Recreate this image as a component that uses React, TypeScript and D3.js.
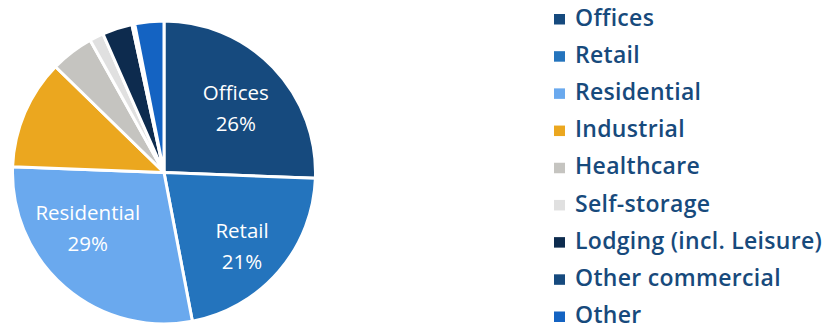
import React from "react";
import * as d3 from "d3";

const categories = [
  "Offices",
  "Retail",
  "Residential",
  "Industrial",
  "Healthcare",
  "Self-storage",
  "Lodging (incl. Leisure)",
  "Other commercial",
  "Other",
];
const values = [25.6, 21.4, 28.6, 11.7, 4.6, 1.5, 3.2, 0.3, 3.1];
const sliceLabels = ["Offices\n26%", "Retail\n21%", "Residential\n29%", "", "", "", "", "", ""];
const colors = [
  "#164a7e",
  "#2474bd",
  "#6aa9ee",
  "#eba71f",
  "#c5c4c0",
  "#e0e0e0",
  "#0d2b4e",
  "#164a7e",
  "#1463c2",
];
// small label nudges (px) applied on top of the arc centroid
const labelNudges: [number, number][] = [[2, 3], [4.5, 10.5], [-13, -18], [0, 0], [0, 0], [0, 0], [0, 0], [0, 0], [0, 0]];

const W = 822;
const H = 324;
const cx = 164;
const cy = 172.5;
const R = 151.5;

export default function App() {
  const data = categories.map((c, i) => ({ name: c, value: values[i], label: sliceLabels[i], color: colors[i], nudge: labelNudges[i] }));
  const pie = d3.pie<any>().sort(null).value((d) => d.value);
  const arcs = pie(data);
  const arc = d3.arc<any>().innerRadius(0).outerRadius(R);
  const labelArc = d3.arc<any>().innerRadius(R * 0.64).outerRadius(R * 0.64);
  const legendY = d3.scalePoint<string>().domain(categories).range([17.5, 315]);

  return (
    <svg width={W} height={H} style={{ position: "absolute", left: 0, top: 0, background: "#fff" }}>
      <g transform={`translate(${cx},${cy})`}>
        {arcs.map((a, i) => (
          <path key={i} d={arc(a) as string} fill={a.data.color} stroke="#fff" strokeWidth={3} strokeLinejoin="round" />
        ))}
        {arcs.map((a, i) => {
          if (!a.data.label) return null;
          const [x0, y0] = labelArc.centroid(a);
          const x = x0 + a.data.nudge[0];
          const y = y0 + a.data.nudge[1];
          const lines = a.data.label.split("\n");
          return (
            <text
              key={"l" + i}
              x={x}
              y={y}
              textAnchor="middle"
              fill="#fff"
              fontFamily="'Open Sans', sans-serif"
              fontSize={20.5}
            >
              {lines.map((ln: string, j: number) => (
                <tspan key={j} x={x} dy={j === 0 ? -8 : 31}>
                  {ln}
                </tspan>
              ))}
            </text>
          );
        })}
      </g>
      <g>
        {categories.map((c, i) => (
          <g key={c} transform={`translate(554,${legendY(c)})`}>
            <rect x={0} y={-3.5} width={11} height={10.5} fill={colors[i]} />
            <text x={21} y={8.2} fill="#174a7c" fontFamily="'Open Sans', sans-serif" fontWeight={600} fontSize={23} letterSpacing={0.3}>
              {c}
            </text>
          </g>
        ))}
      </g>
    </svg>
  );
}
